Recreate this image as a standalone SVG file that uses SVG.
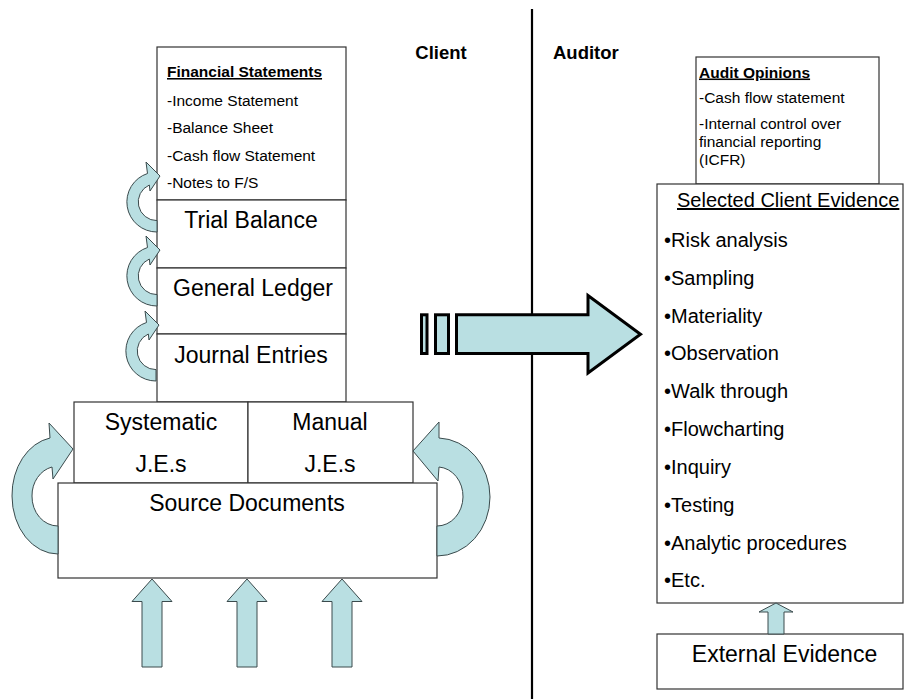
<svg xmlns="http://www.w3.org/2000/svg" xmlns:xlink="http://www.w3.org/1999/xlink" width="904" height="699" viewBox="0 0 904 699">
<style>
text{font-family:"Liberation Sans",Arial,sans-serif;fill:#000}
.big{font-size:23px;text-anchor:middle}
.sm{font-size:15.5px}
.smb{font-size:15.5px;font-weight:bold;text-decoration:underline}
.hd{font-size:18.5px;font-weight:bold}
.ev{font-size:20px}
.box{fill:#fff;stroke:#333;stroke-width:1.2}
.arw{fill:#b9dfe2;stroke:#3a4a4c;stroke-width:1}
.bigarw{fill:#b9dfe2;stroke:#000;stroke-width:3}
</style>
<defs>
<path id="ca" d="M0,30 A30,30 0 0 1 -9.5,-28.5 L-11,-40 L3,-26 L-7,-11 L-7.7,-17 A18.6,18.6 0 0 0 0,18.6 Z"/>
<path id="ua" d="M0,0 L20,22.5 L10,22.5 L10,88 L-10,88 L-10,22.5 L-20,22.5 Z"/>
</defs>
<rect width="904" height="699" fill="#fff"/>

<g id="divider"><line x1="532" y1="9" x2="532" y2="699" stroke="#000" stroke-width="2.2"/></g>

<g id="labels">
<text class="hd" x="441" y="59" text-anchor="middle">Client</text>
<text class="hd" x="553" y="59">Auditor</text>
</g>

<g id="financial-statements">
<rect class="box" x="157" y="47" width="189" height="153"/>
<text class="smb" x="167" y="77">Financial Statements</text>
<text class="sm" x="167" y="105.5">-Income Statement</text>
<text class="sm" x="167" y="133">-Balance Sheet</text>
<text class="sm" x="167" y="160.5">-Cash flow Statement</text>
<text class="sm" x="167" y="188">-Notes to F/S</text>
</g>
<g id="trial-balance">
<rect class="box" x="157" y="200" width="189" height="68"/>
<text class="big" x="251" y="227.5">Trial Balance</text>
</g>
<g id="general-ledger">
<rect class="box" x="157" y="268" width="189" height="66"/>
<text class="big" x="253" y="295.5">General Ledger</text>
</g>
<g id="journal-entries">
<rect class="box" x="157" y="334" width="189" height="68"/>
<text class="big" x="251" y="363">Journal Entries</text>
</g>
<g id="systematic-jes">
<rect class="box" x="74" y="402" width="174" height="81"/>
<text class="big" x="161" y="430">Systematic</text>
<text class="big" x="161" y="472">J.E.s</text>
</g>
<g id="manual-jes">
<rect class="box" x="248" y="402" width="165" height="81"/>
<text class="big" x="330" y="430">Manual</text>
<text class="big" x="330" y="472">J.E.s</text>
</g>
<g id="source-documents">
<rect class="box" x="58" y="483" width="379" height="95"/>
<text class="big" x="247" y="511">Source Documents</text>
</g>

<g id="audit-opinions">
<rect class="box" x="696" y="57" width="183" height="127"/>
<text class="smb" x="699" y="77.5">Audit Opinions</text>
<text class="sm" x="699" y="103">-Cash flow statement</text>
<text class="sm" x="699" y="129">-Internal control over</text>
<text class="sm" x="699" y="147">financial reporting</text>
<text class="sm" x="699" y="165">(ICFR)</text>
</g>
<g id="selected-client-evidence">
<rect class="box" x="657" y="184" width="246" height="419"/>
<text class="ev" x="677" y="207" text-decoration="underline">Selected Client Evidence</text>
<text class="ev" x="664" y="247">•Risk analysis</text>
<text class="ev" x="664" y="285">•Sampling</text>
<text class="ev" x="664" y="323">•Materiality</text>
<text class="ev" x="664" y="360">•Observation</text>
<text class="ev" x="664" y="398">•Walk through</text>
<text class="ev" x="664" y="436">•Flowcharting</text>
<text class="ev" x="664" y="474">•Inquiry</text>
<text class="ev" x="664" y="512">•Testing</text>
<text class="ev" x="664" y="550">•Analytic procedures</text>
<text class="ev" x="664" y="587">•Etc.</text>
</g>
<g id="external-evidence">
<rect class="box" x="657" y="634" width="246" height="55"/>
<text class="big" x="784.5" y="662">External Evidence</text>
</g>

<g id="connectors">
<use xlink:href="#ca" class="arw" transform="translate(157,202)"/>
<use xlink:href="#ca" class="arw" transform="translate(157,276)"/>
<use xlink:href="#ca" class="arw" transform="translate(156,351)"/>
<path class="arw" d="M58,554 A46,58 0 0 1 12,496 A46,58 0 0 1 50,438 L49,423 L73,449 L53,479 L52,467 A26,29.5 0 0 0 32,496 A26,29.5 0 0 0 58,526 Z"/>
<path class="arw" d="M437,556 A53,59 0 0 0 490,497 A53,59 0 0 0 439,438 L439,422 L413,451 L438,481 L439,467 A26,29.5 0 0 1 463,497 A26,29.5 0 0 1 437,526 Z"/>
<use xlink:href="#ua" class="arw" transform="translate(152,579)"/>
<use xlink:href="#ua" class="arw" transform="translate(247,579)"/>
<use xlink:href="#ua" class="arw" transform="translate(342,579)"/>
<path class="arw" d="M776,603 L793,612 L784,612 L784,634 L768,634 L768,612 L759,612 Z"/>
<g class="bigarw">
<rect x="421.5" y="314.8" width="5.5" height="38.7"/>
<rect x="435.5" y="314.8" width="13" height="38.7"/>
<polygon points="456.5,314.8 588,314.8 588,295.5 640.5,334.3 588,373 588,353.5 456.5,353.5"/>
</g>
</g>
</svg>
